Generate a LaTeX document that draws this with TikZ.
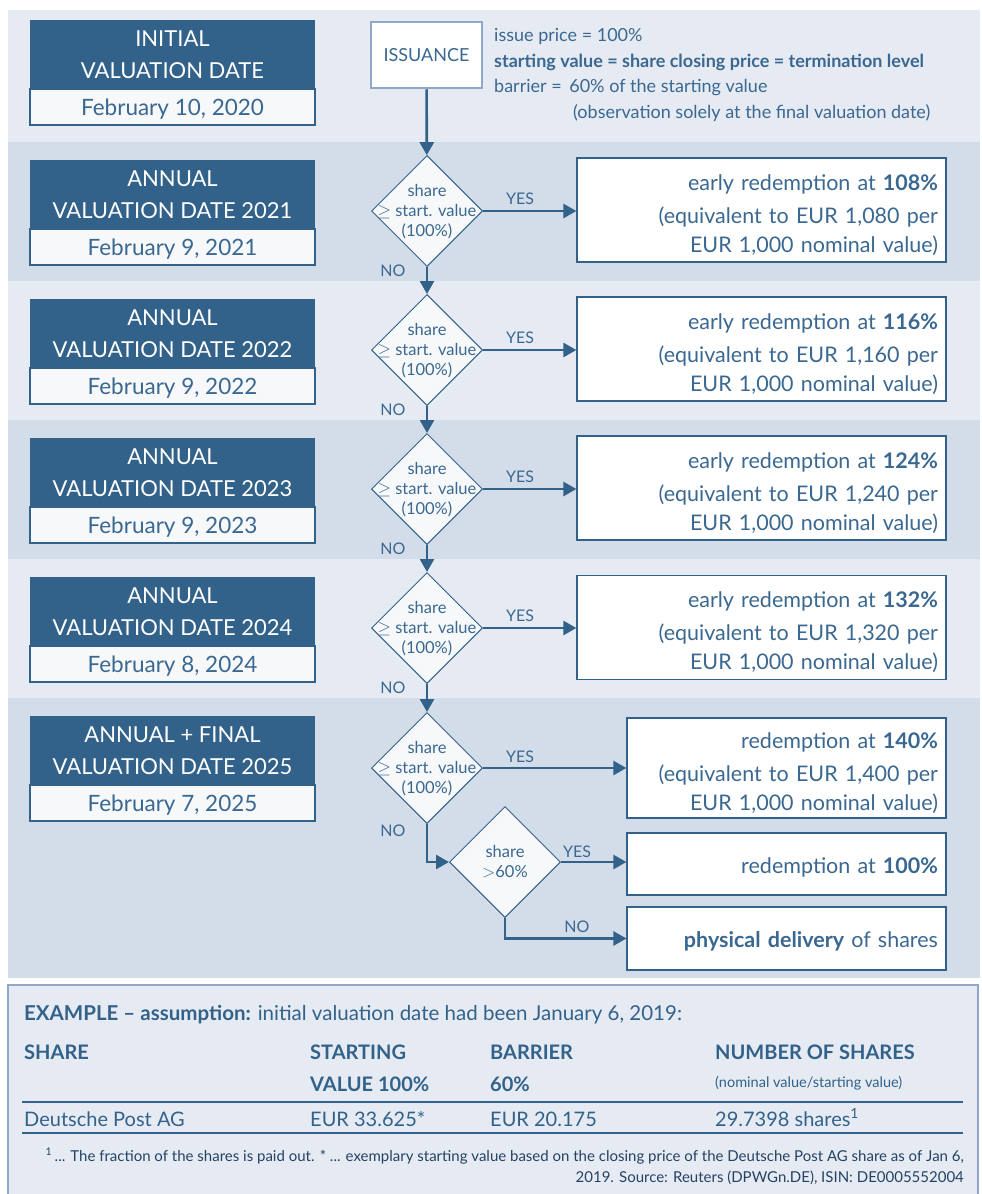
\documentclass[tikz,border=0pt]{standalone}
\usepackage{fontspec}
\setmainfont{Lato}
\usepackage{xcolor}
\usetikzlibrary{shapes.geometric,arrows.meta}

\definecolor{dkblue}{RGB}{50,98,138}
\definecolor{txtblue}{RGB}{58,104,145}
\definecolor{navy}{RGB}{36,66,100}
\definecolor{bandA}{RGB}{230,235,243}
\definecolor{bandB}{RGB}{211,220,233}
\definecolor{boxfill}{RGB}{247,248,250}
\definecolor{issborder}{RGB}{143,168,200}

\newcommand{\toppad}{\rule{0pt}{26pt}}

\begin{document}
\begin{tikzpicture}[x=1pt,y=-1pt]
        \tikzstyle{datehead}=[fill=dkblue,text=white,minimum width=285pt,minimum height=71pt,inner sep=0pt,align=center,font=\fontsize{22}{32}\selectfont]
        \tikzstyle{datebox}=[draw=dkblue,line width=1.2pt,fill=boxfill,text=txtblue,minimum width=285pt,minimum height=36pt,inner sep=0pt,font=\fontsize{22.5}{26}\selectfont]
        \tikzstyle{decision}=[diamond,draw=dkblue,line width=1pt,fill=boxfill,minimum width=111pt,minimum height=111pt,inner sep=0pt]
        \tikzstyle{dtext}=[text=txtblue,align=center,inner sep=0pt,font=\fontsize{16.5}{20}\selectfont]
        \tikzstyle{result}=[draw=dkblue,line width=1.2pt,fill=white,text=txtblue,inner xsep=8pt,inner ysep=0pt,align=right,font=\fontsize{21.5}{29}\selectfont]
        \tikzstyle{yesno}=[text=txtblue,inner sep=0pt,font=\fontsize{16}{16}\selectfont]
        \tikzstyle{info}=[text=txtblue,inner sep=0pt,anchor=base west,font=\fontsize{18}{18}\selectfont]
        \tikzstyle{tab}=[text=dkblue,inner sep=0pt,anchor=base west,font=\fontsize{20}{20}\selectfont]
        \tikzstyle{flow}=[draw=dkblue,line width=2.6pt,-{Triangle[length=13pt,width=14pt]}]

        \useasboundingbox (0,0) rectangle (982,1194);

        % bands
        \fill[bandA] (8,10) rectangle (980,142);
        \fill[bandB] (8,142) rectangle (980,281);
        \fill[bandA] (8,281) rectangle (980,420);
        \fill[bandB] (8,420) rectangle (980,559);
        \fill[bandA] (8,559) rectangle (980,698);
        \fill[bandB] (8,698) rectangle (980,978);

        % valuation dates
        \node[datehead] (h0) at (172.5,55) {INITIAL\\VALUATION DATE};
        \node[datebox] (v0) at (172.5,107) {\rule{0pt}{20pt}February 10, 2020};
        \node[datehead] (h1) at (172.5,195) {ANNUAL\\VALUATION DATE 2021};
        \node[datebox] (v1) at (172.5,247) {\rule{0pt}{20pt}February 9, 2021};
        \node[datehead] (h2) at (172.5,334) {ANNUAL\\VALUATION DATE 2022};
        \node[datebox] (v2) at (172.5,386) {\rule{0pt}{20pt}February 9, 2022};
        \node[datehead] (h3) at (172.5,473) {ANNUAL\\VALUATION DATE 2023};
        \node[datebox] (v3) at (172.5,525) {\rule{0pt}{20pt}February 9, 2023};
        \node[datehead] (h4) at (172.5,612) {ANNUAL\\VALUATION DATE 2024};
        \node[datebox] (v4) at (172.5,664) {\rule{0pt}{20pt}February 8, 2024};
        \node[datehead] (h5) at (172.5,751) {ANNUAL + FINAL\\VALUATION DATE 2025};
        \node[datebox] (v5) at (172.5,803) {\rule{0pt}{20pt}February 7, 2025};

        % issuance
        \node[draw=issborder,line width=2.5pt,fill=white,text=txtblue,minimum width=111pt,minimum height=66pt,inner sep=0pt,font=\fontsize{18}{18}\selectfont] (iss) at (426.5,55) {ISSUANCE};
        \node[info] (i1) at (494,41) {issue price = 100\%};
        \node[info] (i2) at (494,67) {\bfseries starting value = share closing price = termination level};
        \node[info] (i3) at (494,92) {barrier = \,60\% of the starting value};
        \node[info] (i4) at (573,118) {(observation solely at the final valuation date)};

        % decisions
        \node[decision] (d1) at (427,211) {};
        \node[decision] (d2) at (427,350) {};
        \node[decision] (d3) at (427,489) {};
        \node[decision] (d4) at (427,628) {};
        \node[decision] (d5) at (427,768) {};
        \node[decision] (d6) at (505,862) {};
        \node[dtext] (t1) at (427,212) {share\\$\geq$ start. value\\(100\%)};
        \node[dtext] (t2) at (427,351) {share\\$\geq$ start. value\\(100\%)};
        \node[dtext] (t3) at (427,490) {share\\$\geq$ start. value\\(100\%)};
        \node[dtext] (t4) at (427,629) {share\\$\geq$ start. value\\(100\%)};
        \node[dtext] (t5) at (427,769) {share\\$\geq$ start. value\\(100\%)};
        \node[dtext] (t6) at (505,862) {share\\$>$60\%};

        % redemptions
        \node[result,text width=353pt,minimum height=104pt] (b1) at (761.5,210) {\toppad early redemption at \textbf{108\%}\\[4pt](equivalent to EUR 1,080 per\\EUR 1,000 nominal value)};
        \node[result,text width=353pt,minimum height=104pt] (b2) at (761.5,349) {\toppad early redemption at \textbf{116\%}\\[4pt](equivalent to EUR 1,160 per\\EUR 1,000 nominal value)};
        \node[result,text width=353pt,minimum height=104pt] (b3) at (761.5,488) {\toppad early redemption at \textbf{124\%}\\[4pt](equivalent to EUR 1,240 per\\EUR 1,000 nominal value)};
        \node[result,text width=353pt,minimum height=104pt] (b4) at (761.5,627.5) {\toppad early redemption at \textbf{132\%}\\[4pt](equivalent to EUR 1,320 per\\EUR 1,000 nominal value)};
        \node[result,text width=303pt,minimum height=100pt] (b5) at (786.5,768) {\toppad redemption at \textbf{140\%}\\[4pt](equivalent to EUR 1,400 per\\EUR 1,000 nominal value)};
        \node[result,text width=303pt,minimum height=62pt] (b6) at (786.5,864) {\rule{0pt}{22pt}redemption at \textbf{100\%}};
        \node[result,text width=303pt,minimum height=63pt] (b7) at (786.5,938.5) {\rule{0pt}{22pt}\textbf{physical delivery} of shares};

        % connectors
        \draw[flow] (iss) -- (d1);
        \draw[flow] (d1.east) -- (d1.east -| b1.west);
        \draw[flow] (d2.east) -- (d2.east -| b2.west);
        \draw[flow] (d3.east) -- (d3.east -| b3.west);
        \draw[flow] (d4.east) -- (d4.east -| b4.west);
        \draw[flow] (d5.east) -- (d5.east -| b5.west);
        \draw[flow] (d6.east) -- (d6.east -| b6.west);
        \draw[flow] (d1.south) -- (d2.north);
        \draw[flow] (d2.south) -- (d3.north);
        \draw[flow] (d3.south) -- (d4.north);
        \draw[flow] (d4.south) -- (d5.north);
        \draw[flow] (d5.south) |- (d6.west);
        \draw[flow] (d6.south) |- (b7.west);

        \node[yesno] (y1) at (520,199) {YES};
        \node[yesno] (y2) at (520,338) {YES};
        \node[yesno] (y3) at (520,477) {YES};
        \node[yesno] (y4) at (520,616) {YES};
        \node[yesno] (y5) at (520,757) {YES};
        \node[yesno] (y6) at (577,852) {YES};
        \node[yesno] (n1) at (393,271) {NO};
        \node[yesno] (n2) at (393,410) {NO};
        \node[yesno] (n3) at (393,549) {NO};
        \node[yesno] (n4) at (393,688) {NO};
        \node[yesno] (n5) at (393,831) {NO};
        \node[yesno] (n6) at (577,927) {NO};

        % example
        \draw[issborder,line width=1.5pt,fill=bandA] (8,985) rectangle (978,1196);
        \node[tab,font=\fontsize{20.5}{20.5}\selectfont] (ex) at (24,1020) {\textbf{EXAMPLE – assumption:} initial valuation date had been January 6, 2019:};
        \node[tab] (c1) at (24,1059) {\bfseries SHARE};
        \node[tab] (c2) at (310,1059) {\bfseries STARTING};
        \node[tab] (c2b) at (310,1091) {\bfseries VALUE 100\%};
        \node[tab] (c3) at (490,1059) {\bfseries BARRIER};
        \node[tab] (c3b) at (490,1091) {\bfseries 60\%};
        \node[tab] (c4) at (715,1059) {\bfseries NUMBER OF SHARES};
        \node[tab,font=\fontsize{14.5}{14.5}\selectfont] (c4b) at (715,1087) {(nominal value/starting value)};
        \draw[dkblue,line width=2.5pt] (22,1102) -- (963,1102);
        \node[tab] (r1) at (24,1126) {Deutsche Post AG};
        \node[tab] (r2) at (310,1126) {EUR 33.625*};
        \node[tab] (r3) at (490,1126) {EUR 20.175};
        \node[tab] (r4) at (715,1126) {29.7398 shares\textsuperscript{1}};
        \draw[dkblue,line width=1.2pt] (22,1133) -- (963,1133);
        \node[text=navy,inner sep=0pt,anchor=base east,font=\fontsize{15}{15}\selectfont] (fn1) at (964,1161) {\textsuperscript{1}\,... The fraction of the shares is paid out. * ... exemplary starting value based on the closing price of the Deutsche Post AG share as of Jan 6,};
        \node[text=navy,inner sep=0pt,anchor=base east,font=\fontsize{15}{15}\selectfont] (fn2) at (964,1182) {2019. Source: Reuters (DPWGn.DE), ISIN: DE0005552004};
\end{tikzpicture}
\end{document}
